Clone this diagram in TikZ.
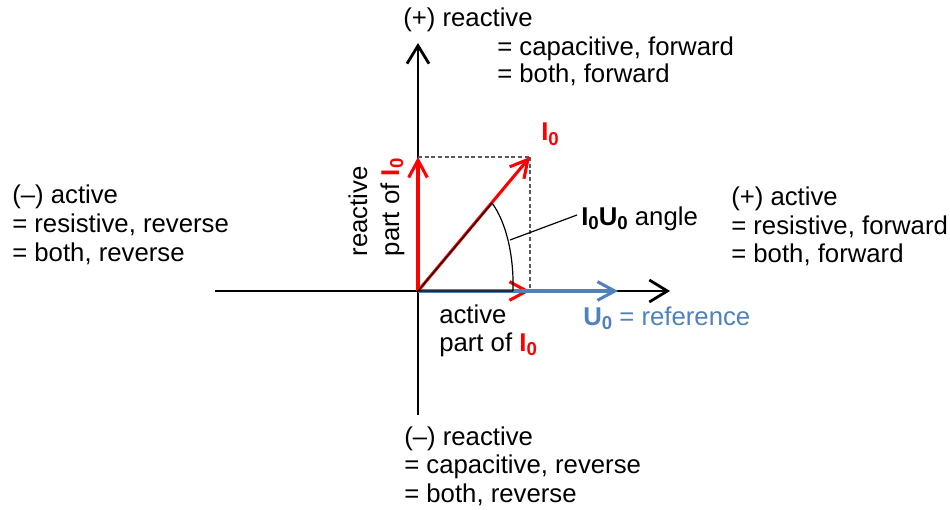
\documentclass[tikz,border=0pt]{standalone}
\usepackage{fontspec}
\setmainfont{Liberation Sans}
\usetikzlibrary{arrows.meta}
\definecolor{ublue}{HTML}{4F81BD}
\newcommand\zsub[1]{\raisebox{-0.3ex}{\fontsize{14}{14}\selectfont\bfseries #1}}
\newcommand\Izero{\textbf{I}\zsub{0}}
\newcommand\Uzero{\textbf{U}\zsub{0}}
\begin{document}
\begin{tikzpicture}[x=0.75pt,y=-0.75pt,
  txt/.style={anchor=base west,inner sep=0pt,font=\fontsize{19.3}{23}\selectfont},
  axis/.style={line width=2.1pt,-{Straight Barb[length=13.5pt,width=16.5pt]}},
  redarr/.style={red,line width=2.3pt,-{Straight Barb[length=13pt,width=14pt]}},
  bluearr/.style={ublue,line width=2.3pt,-{Straight Barb[length=13pt,width=14pt]}},
  guide/.style={gray!70!black,line width=0.8pt,dash pattern=on 3pt off 2pt},
  thin/.style={black,line width=0.9pt}]
\useasboundingbox (0,0) rectangle (950,510);
% points
\coordinate (O) at (418,291);
\coordinate (ytop) at (418,43);
\coordinate (ybot) at (418,415);
\coordinate (xleft) at (215,291);
\coordinate (xright) at (670,291);
\coordinate (Itip) at (530,157);
\coordinate (Ry) at (418,157);
\coordinate (Rx) at (530,291);
\coordinate (Utip) at (618,291);
\coordinate (A1) at (513,291);
\coordinate (A2) at (492,203);
\coordinate (L1) at (510,240);
\coordinate (L2) at (577,215);
% axes
\draw[axis] (ybot) -- (ytop);
\draw[axis] (xleft) -- (xright);
% dashed projections
\draw[guide] (Ry) -- (Itip);
\draw[guide] (Itip) -- (Rx);
% components
\draw[redarr] (O) -- (Ry);
\draw[redarr] (O) -- (Rx);
\draw[bluearr] (O) -- (Utip);
\draw[redarr] (O) -- (Itip);
% angle sector
\draw[thin] (A2) -- (O) -- (A1);
\draw[thin] (A1) .. controls (514,255) and (506,222) .. (A2);
\draw[thin] (L1) -- (L2);
% labels
\node[txt] (ptop) at (403,27) {(+) reactive};
\node[txt] (ptop2) at (497,55.5) {= capacitive, forward};
\node[txt] (ptop3) at (497,83) {= both, forward};
\node[txt] (nleft) at (12,203) {(–) active};
\node[txt] (nleft2) at (12,232.5) {= resistive, reverse};
\node[txt] (nleft3) at (12,261.5) {= both, reverse};
\node[txt] (pright) at (731,205.5) {(+) active};
\node[txt] (pright2) at (731,234) {= resistive, forward};
\node[txt] (pright3) at (731,262.5) {= both, forward};
\node[txt] (nbot) at (404,445) {(–) reactive};
\node[txt] (nbot2) at (404,473.5) {= capacitive, reverse};
\node[txt] (nbot3) at (404,502) {= both, reverse};
\node[txt,text=red] (Ilab) at (541,141) {\Izero};
\node[txt] (ang) at (581,225.5) {\Izero\Uzero{} angle};
\node[txt,text=ublue] (Ulab) at (583,325) {\Uzero{} = reference};
\node[txt] (act1) at (439,323) {active};
\node[txt] (act2) at (439,351.5) {part of {\color{red}\Izero}};
\node[txt,rotate=90] (rea1) at (367,256.5) {reactive};
\node[txt,rotate=90] (rea2) at (399,256.5) {part of {\color{red}\Izero}};
\end{tikzpicture}
\end{document}
